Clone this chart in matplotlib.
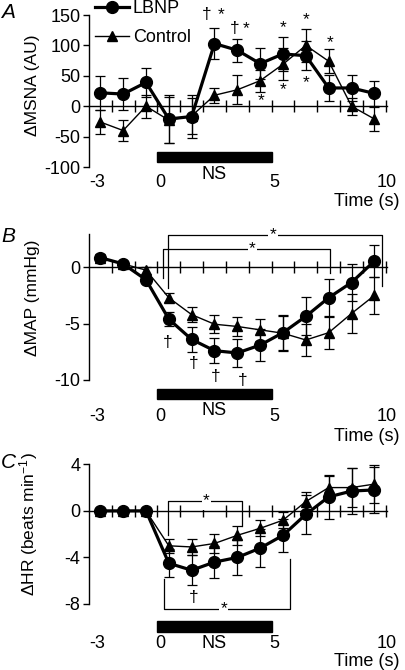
import numpy as np
import matplotlib
matplotlib.use("Agg")
import matplotlib.pyplot as plt
from matplotlib.patches import Rectangle
from matplotlib.lines import Line2D

plt.rcParams["font.family"] = ["Liberation Sans", "DejaVu Sans"]
plt.rcParams["mathtext.fontset"] = "custom"
plt.rcParams["mathtext.rm"] = "Liberation Sans"
plt.rcParams["mathtext.it"] = "Liberation Sans:italic"

# cardiac-cycle bins (s), centred between the 1 s ticks
time = [-2.5, -1.5, -0.5, 0.5, 1.5, 2.5, 3.5, 4.5, 5.5, 6.5, 7.5, 8.5, 9.5]

msna_lbnp = [22, 20, 39, -21, -17, 103, 92, 70, 86, 83, 30, 30, 21]
msna_lbnp_sem = [28, 27, 24, 40, 35, 25, 19, 25, 28, 24, 22, 21, 20]
msna_ctrl = [-26, -40, 0, -23, -16, 18, 27, 42, 69, 100, 74, 0, -21]
msna_ctrl_sem = [20, 17, 19, 38, 30, 12, 24, 18, 26, 27, 20, 14, 19]

map_lbnp = [0.86, 0.3, -1.1, -4.6, -6.4, -7.4, -7.6, -6.9, -5.8, -4.35, -2.7, -1.35, 0.55]
map_lbnp_sem = [0.3, 0.2, 0.3, 0.65, 1.1, 1.1, 1.25, 1.45, 1.6, 1.7, 1.7, 1.6, 1.4]
map_ctrl = [0.86, 0.3, -0.25, -2.7, -4.2, -5.05, -5.25, -5.55, -5.85, -6.45, -5.8, -4.1, -2.5]
map_ctrl_sem = [0.2, 0.2, 0.3, 0.4, 0.65, 0.8, 0.85, 1.0, 1.5, 1.4, 1.45, 1.7, 1.6]

hr_lbnp = [0, 0, 0, -4.5, -5.1, -4.4, -4.0, -3.2, -2.1, -0.3, 1.2, 1.7, 1.8]
hr_lbnp_sem = [0, 0, 0, 1.2, 1.3, 1.4, 1.5, 1.6, 1.4, 1.7, 1.9, 2.0, 2.0]
hr_ctrl = [0, 0, 0, -3.0, -3.1, -2.8, -2.1, -1.5, -0.8, 0.8, 2.0, 2.0, 2.3]
hr_ctrl_sem = [0, 0, 0, 0.6, 0.7, 0.8, 0.8, 0.7, 0.7, 0.8, 1.0, 1.7, 1.6]

NS_START, NS_END = 0, 5
xtick_labels = ["-3", "0", "5", "10"]
xtick_label_pos = [-2.65, 0.12, 5.1, 10.05]

FS = 12.5
TFS = 13


def draw_series(ax, y_l, e_l, y_c, e_c):
    ax.errorbar(time, y_c, yerr=e_c, color="black", lw=1.0, marker="^", ms=7.5,
                elinewidth=0.9, capsize=3.5, capthick=0.9, zorder=3, clip_on=False)
    ax.errorbar(time, y_l, yerr=e_l, color="black", lw=2.3, marker="o", ms=8.5,
                elinewidth=0.9, capsize=3.5, capthick=0.9, zorder=4, clip_on=False)


def style_axes(ax, ylim, yticks, ylabel, label_y, ns_y, ns_h, ns_text_y, ticklab_y, time_y):
    ax.set_xlim(-3, 10.05)
    ax.set_ylim(*ylim)
    for s in ("top", "right"):
        ax.spines[s].set_visible(False)
    ax.spines["bottom"].set_position(("data", 0))
    ax.spines["bottom"].set_linewidth(1.0)
    ax.spines["left"].set_linewidth(1.0)
    ax.set_xticks(np.arange(-2, 11, 1))
    ax.set_xticklabels([])
    ax.tick_params(axis="x", direction="inout", length=8, width=1.0)
    ax.set_yticks(yticks)
    ax.set_yticklabels([f"{t:g}" for t in yticks], fontsize=TFS)
    ax.tick_params(axis="y", direction="out", length=4, width=1.0, pad=2)
    ax.set_ylabel(ylabel, fontsize=FS)
    ax.yaxis.set_label_coords(-0.165, label_y)
    ax.add_patch(Rectangle((NS_START, ns_y), NS_END - NS_START, ns_h,
                           color="black", clip_on=False, zorder=2))
    ax.text((NS_START + NS_END) / 2, ns_text_y, "NS", ha="center", va="center", fontsize=TFS)
    tr = ax.get_xaxis_transform()
    for lab, xp in zip(xtick_labels, xtick_label_pos):
        ax.text(xp, ticklab_y, lab, transform=tr, ha="center", va="center", fontsize=TFS)
    ax.text(10.6, time_y, "Time (s)", transform=tr, ha="right", va="center", fontsize=TFS)


def bracket(ax, x0, x1, y, y0_end, y1_end, star_x):
    ax.plot([x0, x0, x1, x1], [y0_end, y, y, y1_end], color="black", lw=0.9,
            zorder=2, clip_on=False)
    ax.text(star_x, y, "*", ha="center", va="center", fontsize=FS,
            bbox=dict(fc="white", ec="none", pad=1), zorder=2.5)


fig = plt.figure(figsize=(4.06, 6.70), dpi=100)
L, W = 88.9 / 406, 298 / 406
axA = fig.add_axes([L, 1 - 167 / 670, W, 152 / 670])
axB = fig.add_axes([L, 1 - 380 / 670, W, 146.5 / 670])
axC = fig.add_axes([L, 1 - 604 / 670, W, 139.7 / 670])

# ---- A: MSNA
draw_series(axA, msna_lbnp, msna_lbnp_sem, msna_ctrl, msna_ctrl_sem)
style_axes(axA, (-100, 150), [150, 100, 50, 0, -50, -100], "ΔMSNA (AU)", 0.54,
           -91, 16, -113, -0.105, -0.225)
for x, y, s in [(2.15, 151, "†"), (2.8, 151, "*"), (3.37, 127, "†"), (3.9, 127, "*"),
                (5.52, 130, "*"), (6.5, 143, "*"), (7.56, 105, "*"),
                (5.52, 27, "*"), (6.5, 39, "*"), (4.54, 9, "*")]:
    axA.text(x, y, s, ha="center", va="center", fontsize=FS, clip_on=False)

handles = [Line2D([], [], color="black", lw=2.3, marker="o", ms=8.5),
           Line2D([], [], color="black", lw=1.0, marker="^", ms=7.5)]
fig.legend(handles, ["LBNP", "Control"], loc="upper left",
           bbox_to_anchor=(95 / 406, 1.0), frameon=False, fontsize=TFS,
           handlelength=1.9, handletextpad=0.2, labelspacing=0.68, borderpad=0,
           borderaxespad=0)

# ---- B: MAP
draw_series(axB, map_lbnp, map_lbnp_sem, map_ctrl, map_ctrl_sem)
style_axes(axB, (-10, 3), [0, -5, -10], "ΔMAP (mmHg)", 0.56,
           -11.7, 0.9, -12.7, -0.25, -0.385)
bracket(axB, 0.45, 9.84, 2.87, -1.85, -1.65, 5.07)
bracket(axB, 0.23, 7.55, 1.62, -0.95, -0.5, 4.16)
for x, y in [(0.45, -6.64), (1.58, -8.5), (2.54, -9.7), (3.72, -10.0)]:
    axB.text(x, y, "†", ha="center", va="center", fontsize=FS, clip_on=False)

# ---- C: HR
draw_series(axC, hr_lbnp, hr_lbnp_sem, hr_ctrl, hr_ctrl_sem)
style_axes(axC, (-8, 4), [4, 0, -4, -8], "ΔHR (beats min$^{-1}$)", 0.57,
           -10.4, 0.95, -11.4, -0.283, -0.412)
bracket(axC, 0.45, 3.7, 0.86, -2.1, -1.3, 2.15)
bracket(axC, 0.29, 5.82, -8.4, -5.85, -4.1, 2.9)
axC.text(1.6, -7.45, "†", ha="center", va="center", fontsize=FS)

for lab, yy in [("A", 12), ("B", 236), ("C", 463)]:
    fig.text(8 / 406, 1 - yy / 670, lab, fontsize=15, style="italic",
             ha="center", va="center")

fig.savefig("out.png", dpi=100)
